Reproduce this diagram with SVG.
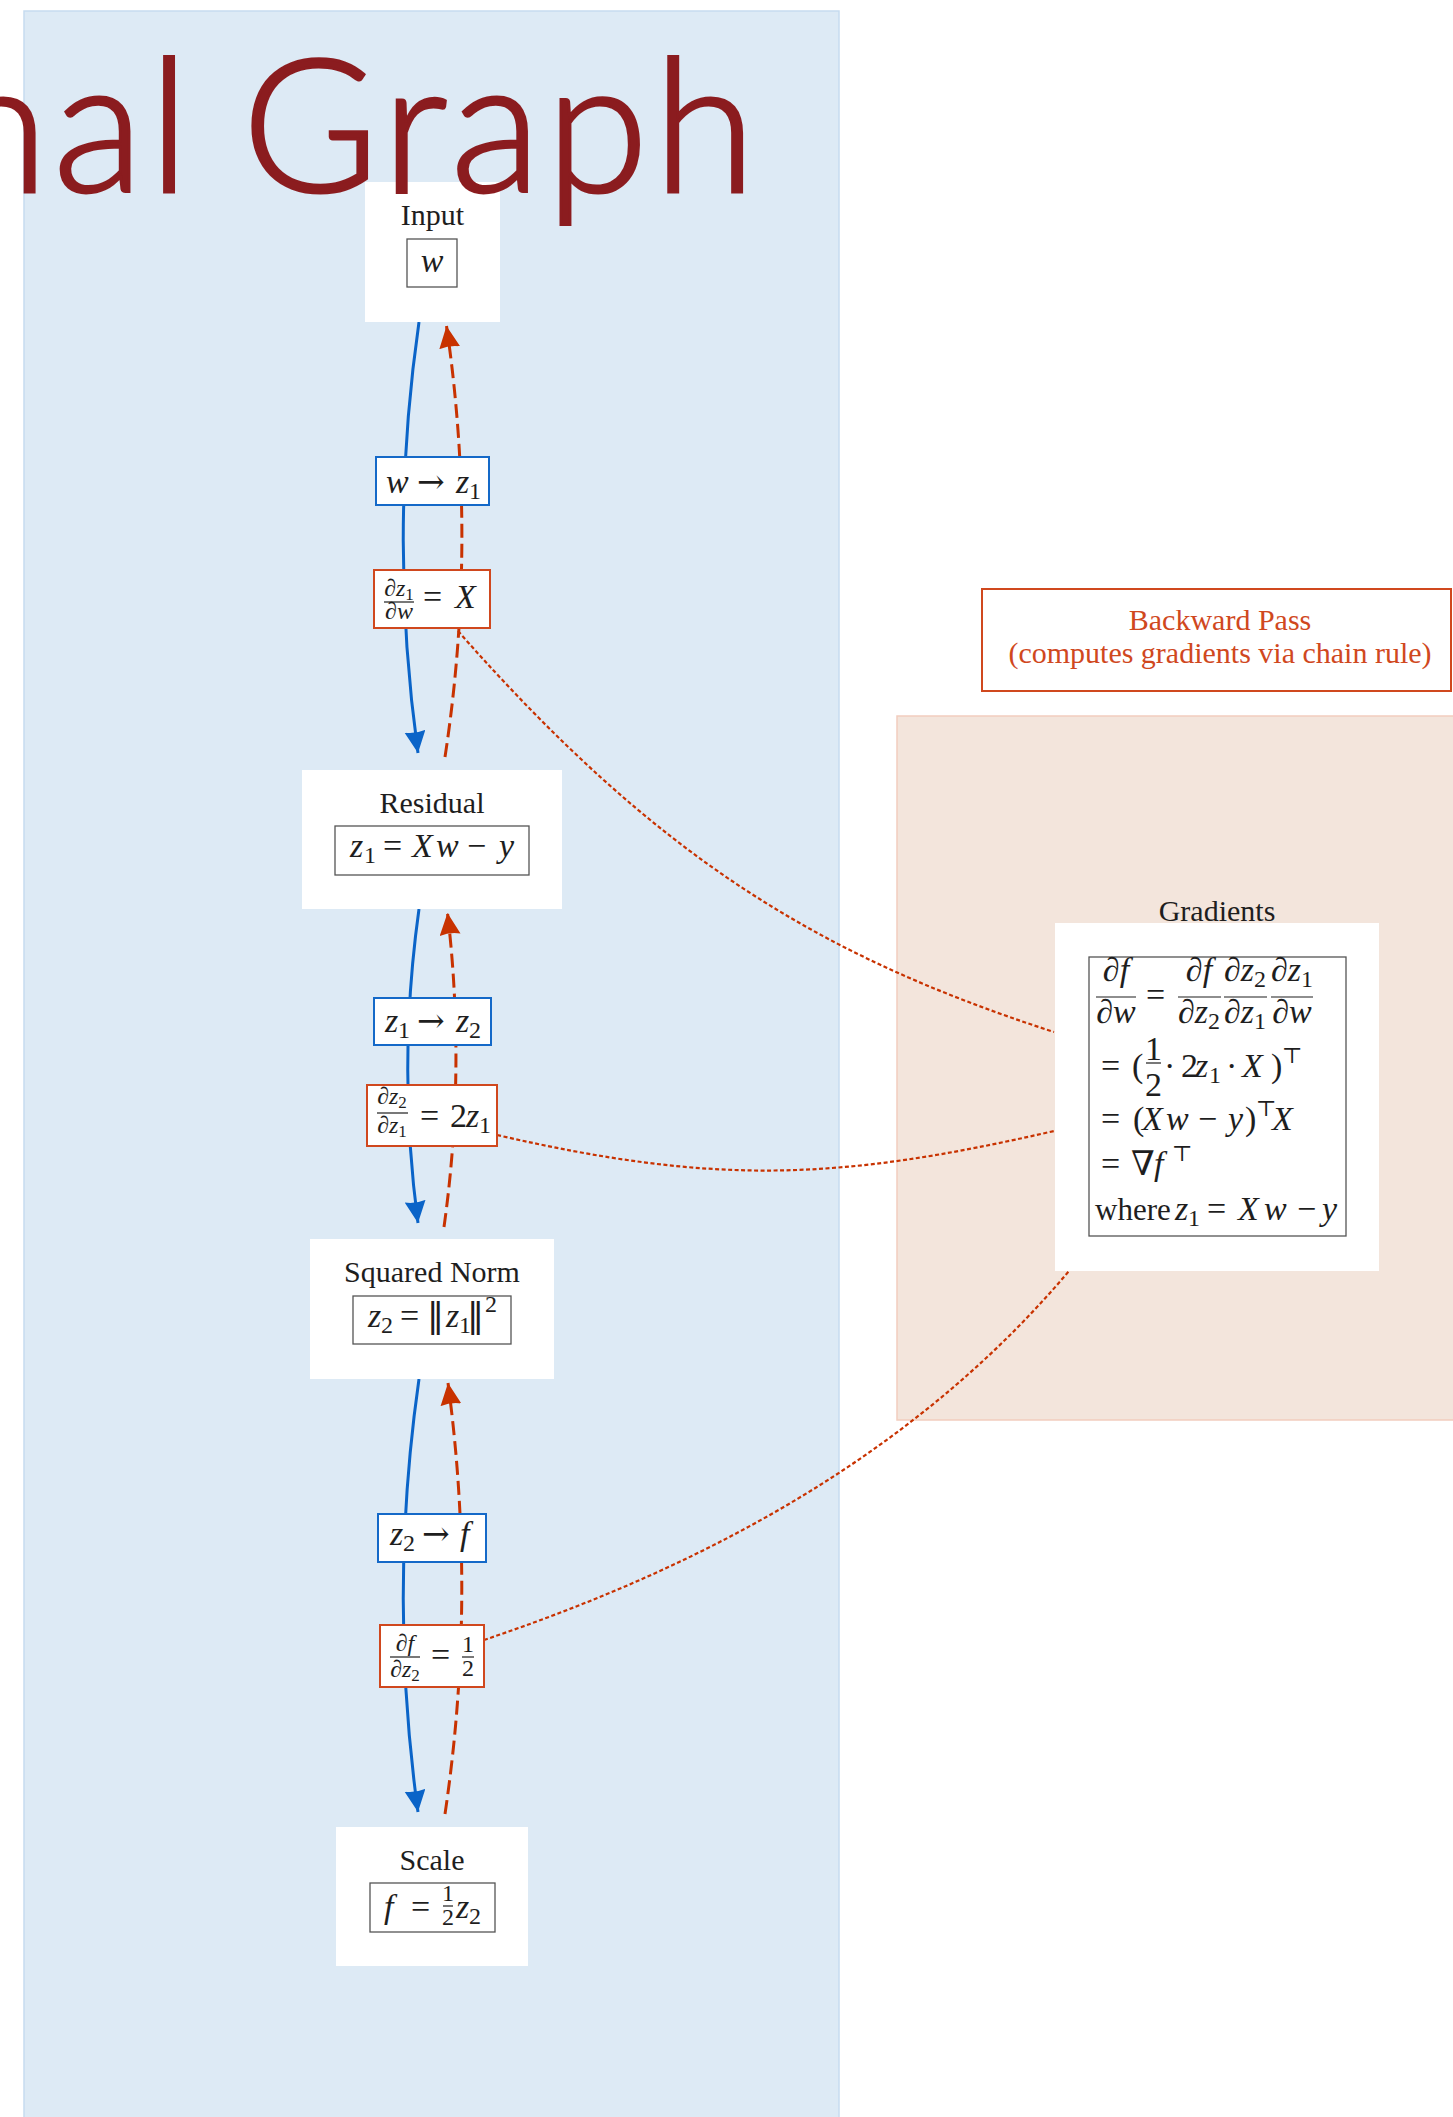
<svg xmlns="http://www.w3.org/2000/svg" width="1453" height="2117" viewBox="0 0 1453 2117">
<defs>
<style>
.title{font-family:Lato,"Open Sans","Noto Sans",sans-serif;font-size:186px;font-weight:300;letter-spacing:5px;fill:#8B1C1F;stroke:#8B1C1F;stroke-width:3}
.t{font-family:"Liberation Serif","DejaVu Serif","DejaVu Sans",serif;font-size:30px;fill:#1e1e1e}
.m{font-family:"Liberation Serif","DejaVu Serif","DejaVu Sans",serif;font-size:34px;fill:#1e1e1e;font-style:italic}
.u{font-style:normal}
.ar{font-family:"DejaVu Serif","DejaVu Sans",serif;font-style:normal;font-size:33px}
.nm{font-family:"DejaVu Sans","DejaVu Serif",sans-serif;font-style:normal;font-size:34px}
.sm{font-family:"Liberation Serif","DejaVu Serif","DejaVu Sans",serif;font-size:24px;fill:#1e1e1e;font-style:italic}
.node{fill:#ffffff}
.inner{fill:none;stroke:#555;stroke-width:1.3}
.lf{fill:#fff;stroke:#1469C8;stroke-width:2}
.lb{fill:#fff;stroke:#D0481E;stroke-width:2}
.fwd{fill:none;stroke:#0A64C8;stroke-width:3}
.bwd{fill:none;stroke:#C83200;stroke-width:3;stroke-dasharray:14 6}
.dot{fill:none;stroke:#C83200;stroke-width:2.2;stroke-dasharray:4 2.5}
.bar{stroke:#1e1e1e;stroke-width:1.2}
.bt{font-family:"Liberation Serif","DejaVu Serif",serif;font-size:30px;fill:#D0481E}
</style>
<marker id="ab" markerUnits="userSpaceOnUse" markerWidth="23" markerHeight="22" refX="22" refY="10.5" orient="auto" viewBox="0 0 23 22">
<path d="M0,0 L22,10.5 L0,21 Q3,10.5 0,0 Z" fill="#0A64C8"/>
</marker>
<marker id="ao" markerUnits="userSpaceOnUse" markerWidth="23" markerHeight="22" refX="22" refY="10.5" orient="auto" viewBox="0 0 23 22">
<path d="M0,0 L22,10.5 L0,21 Q3,10.5 0,0 Z" fill="#C83200"/>
</marker>
</defs>

<g id="panels">
<rect x="24" y="11" width="815" height="2130" fill="#DDEAF5" stroke="#C6DBEF" stroke-width="1.5"/>
<rect x="897" y="716" width="580" height="704" fill="#F3E5DC" stroke="#F2CDBE" stroke-width="1.5"/>
</g>

<g id="backward-pass-note">
<rect x="982" y="589" width="469" height="102" fill="#fff" stroke="#D0481E" stroke-width="2"/>
<text class="bt" x="1220" y="630" text-anchor="middle">Backward Pass</text>
<text class="bt" x="1220" y="663" text-anchor="middle">(computes gradients via chain rule)</text>
</g>

<g id="connectors">
<path class="dot" d="M458,631 C656,856 816,955 1054,1032"/>
<path class="dot" d="M497,1135 C714,1185 837,1181 1054,1131"/>
<path class="dot" d="M484,1640 C692,1570 908,1462 1069,1271"/>

<path class="fwd" d="M419,322 Q388,537 418,753" marker-end="url(#ab)"/>
<path class="bwd" d="M445,757 Q478,541 446.5,326" marker-end="url(#ao)"/>
<path class="fwd" d="M419,909 Q397,1066 418,1223" marker-end="url(#ab)"/>
<path class="bwd" d="M444,1227 Q466,1070 447.5,913" marker-end="url(#ao)"/>
<path class="fwd" d="M419,1379 Q388,1595 418,1812" marker-end="url(#ab)"/>
<path class="bwd" d="M445,1814 Q477,1598 448,1383" marker-end="url(#ao)"/>

<g id="label-w-z1">
<rect class="lf" x="376" y="457" width="113" height="48"/>
<text class="m" y="493"><tspan x="386">w</tspan><tspan class="ar" x="417">→</tspan><tspan x="456">z</tspan><tspan class="u" x="469" y="499" font-size="24">1</tspan></text>
</g>
<g id="label-dz1dw">
<rect class="lb" x="374" y="570" width="116" height="58"/>
<text class="sm" x="399" y="596" text-anchor="middle"><tspan class="u">∂</tspan>z<tspan class="u" font-size="17" dy="4">1</tspan></text>
<line class="bar" x1="384" y1="602" x2="414" y2="602"/>
<text class="sm" x="399" y="619" text-anchor="middle"><tspan class="u">∂</tspan>w</text>
<text class="m" y="608"><tspan class="u" x="423">=</tspan><tspan x="455">X</tspan></text>
</g>
<g id="label-z1-z2">
<rect class="lf" x="374" y="998" width="117" height="47"/>
<text class="m" y="1032"><tspan x="385">z</tspan><tspan class="u" x="398" y="1038" font-size="24">1</tspan><tspan class="ar" x="417" y="1032">→</tspan><tspan x="456">z</tspan><tspan class="u" x="469" y="1038" font-size="24">2</tspan></text>
</g>
<g id="label-dz2dz1">
<rect class="lb" x="367" y="1085" width="130" height="61"/>
<text class="sm" x="392" y="1104" text-anchor="middle"><tspan class="u">∂</tspan>z<tspan class="u" font-size="17" dy="4">2</tspan></text>
<line class="bar" x1="377" y1="1113" x2="408" y2="1113"/>
<text class="sm" x="392" y="1133" text-anchor="middle"><tspan class="u">∂</tspan>z<tspan class="u" font-size="17" dy="4">1</tspan></text>
<text class="m" y="1127"><tspan class="u" x="420">=</tspan><tspan class="u" x="450">2</tspan><tspan x="466">z</tspan><tspan class="u" x="479" y="1133" font-size="24">1</tspan></text>
</g>
<g id="label-z2-f">
<rect class="lf" x="378" y="1514" width="108" height="48"/>
<text class="m" y="1545"><tspan x="390">z</tspan><tspan class="u" x="403" y="1551" font-size="24">2</tspan><tspan class="ar" x="422" y="1545">→</tspan><tspan x="460">f</tspan></text>
</g>
<g id="label-dfdz2">
<rect class="lb" x="380" y="1625" width="104" height="62"/>
<text class="sm" x="405" y="1651" text-anchor="middle"><tspan class="u">∂</tspan>f</text>
<line class="bar" x1="390" y1="1657" x2="420" y2="1657"/>
<text class="sm" x="405" y="1677" text-anchor="middle"><tspan class="u">∂</tspan>z<tspan class="u" font-size="17" dy="4">2</tspan></text>
<text class="m" x="431" y="1666"><tspan class="u">=</tspan></text>
<text class="sm" x="468" y="1652" text-anchor="middle"><tspan class="u">1</tspan></text>
<line class="bar" x1="462" y1="1657" x2="474" y2="1657"/>
<text class="sm" x="468" y="1676" text-anchor="middle"><tspan class="u">2</tspan></text>
</g>
</g>

<g id="node-input">
<rect class="node" x="365" y="182" width="135" height="140"/>
<text class="t" x="432.5" y="225" text-anchor="middle">Input</text>
<rect class="inner" x="407" y="239" width="50" height="48"/>
<text class="m" x="432" y="272" text-anchor="middle">w</text>
</g>

<g id="node-residual">
<rect class="node" x="302" y="770" width="260" height="139"/>
<text class="t" x="432" y="813" text-anchor="middle">Residual</text>
<rect class="inner" x="335" y="826" width="194" height="49"/>
<text class="m" y="857"><tspan x="350">z</tspan><tspan class="u" x="364" y="863" font-size="24">1</tspan><tspan class="u" x="383" y="857">=</tspan><tspan x="412">X</tspan><tspan x="436">w</tspan><tspan class="u" x="467">−</tspan><tspan x="499">y</tspan></text>
</g>

<g id="node-squared-norm">
<rect class="node" x="310" y="1239" width="244" height="140"/>
<text class="t" x="432" y="1282" text-anchor="middle">Squared Norm</text>
<rect class="inner" x="353" y="1296" width="158" height="48"/>
<text class="m" y="1327"><tspan x="368">z</tspan><tspan class="u" x="381" y="1333" font-size="24">2</tspan><tspan class="u" x="400" y="1327">=</tspan><tspan class="nm" x="427">‖</tspan><tspan x="446">z</tspan><tspan class="u" x="459" y="1333" font-size="24">1</tspan><tspan class="nm" x="467" y="1327">‖</tspan><tspan class="u" x="485" y="1312" font-size="24">2</tspan></text>
</g>

<g id="node-scale">
<rect class="node" x="336" y="1827" width="192" height="139"/>
<text class="t" x="432" y="1870" text-anchor="middle">Scale</text>
<rect class="inner" x="370" y="1883" width="125" height="49"/>
<text class="m" y="1918"><tspan x="384">f</tspan><tspan class="u" x="411">=</tspan></text>
<text class="sm" x="448" y="1901" text-anchor="middle"><tspan class="u">1</tspan></text>
<line class="bar" x1="443" y1="1906" x2="453" y2="1906"/>
<text class="sm" x="448" y="1925" text-anchor="middle"><tspan class="u">2</tspan></text>
<text class="m" y="1918"><tspan x="456">z</tspan><tspan class="u" x="469" y="1924" font-size="24">2</tspan></text>
</g>

<g id="node-gradients">
<text class="t" x="1217" y="921" text-anchor="middle">Gradients</text>
<rect class="node" x="1055" y="923" width="324" height="348"/>
<rect class="inner" x="1089" y="957" width="257" height="279"/>
<text class="m" x="1116" y="981" text-anchor="middle"><tspan class="u">∂</tspan>f</text>
<line class="bar" x1="1096" y1="997" x2="1136" y2="997"/>
<text class="m" x="1116" y="1023" text-anchor="middle"><tspan class="u">∂</tspan>w</text>
<text class="m" x="1146" y="1006"><tspan class="u">=</tspan></text>
<text class="m" x="1199" y="981" text-anchor="middle"><tspan class="u">∂</tspan>f</text>
<line class="bar" x1="1178" y1="997" x2="1221" y2="997"/>
<text class="m" x="1199" y="1023" text-anchor="middle"><tspan class="u">∂</tspan>z<tspan class="u" font-size="24" dy="6">2</tspan></text>
<text class="m" x="1245" y="981" text-anchor="middle"><tspan class="u">∂</tspan>z<tspan class="u" font-size="24" dy="6">2</tspan></text>
<line class="bar" x1="1224" y1="997" x2="1267" y2="997"/>
<text class="m" x="1245" y="1023" text-anchor="middle"><tspan class="u">∂</tspan>z<tspan class="u" font-size="24" dy="6">1</tspan></text>
<text class="m" x="1292" y="981" text-anchor="middle"><tspan class="u">∂</tspan>z<tspan class="u" font-size="24" dy="6">1</tspan></text>
<line class="bar" x1="1271" y1="997" x2="1313" y2="997"/>
<text class="m" x="1292" y="1023" text-anchor="middle"><tspan class="u">∂</tspan>w</text>

<text class="m" y="1077"><tspan class="u" x="1101">=</tspan><tspan class="u" x="1132">(</tspan></text>
<text class="m" x="1153.5" y="1060" text-anchor="middle"><tspan class="u">1</tspan></text>
<line class="bar" x1="1146" y1="1063" x2="1161" y2="1063"/>
<text class="m" x="1153.5" y="1096" text-anchor="middle"><tspan class="u">2</tspan></text>
<text class="m" y="1077"><tspan class="u" x="1164">·</tspan><tspan class="u" x="1181">2</tspan><tspan x="1195">z</tspan><tspan class="u" x="1209" y="1083" font-size="24">1</tspan><tspan class="u" x="1226" y="1077">·</tspan><tspan x="1242">X</tspan><tspan class="u" x="1271">)</tspan><tspan class="u" x="1282" y="1063" font-size="22">⊤</tspan></text>

<text class="m" y="1130"><tspan class="u" x="1101">=</tspan><tspan class="u" x="1133">(</tspan><tspan x="1142">X</tspan><tspan x="1166">w</tspan><tspan class="u" x="1198">−</tspan><tspan x="1228">y</tspan><tspan class="u" x="1245">)</tspan><tspan class="u" x="1256" y="1116" font-size="22">⊤</tspan><tspan x="1272" y="1130">X</tspan></text>

<text class="m" y="1175"><tspan class="u" x="1101">=</tspan><tspan class="u" x="1131">∇</tspan><tspan x="1154">f</tspan><tspan class="u" x="1172" y="1161" font-size="22">⊤</tspan></text>

<text class="m" y="1220"><tspan class="u" x="1095" font-size="31">where</tspan><tspan x="1175">z</tspan><tspan class="u" x="1188" y="1226" font-size="24">1</tspan><tspan class="u" x="1207" y="1220">=</tspan><tspan x="1238">X</tspan><tspan x="1264">w</tspan><tspan class="u" x="1297">−</tspan><tspan x="1322">y</tspan></text>
</g>

<g id="title">
<text class="title" y="192"><tspan x="250" text-anchor="end">Computational </tspan><tspan x="242">Graph</tspan></text>
</g>
</svg>
